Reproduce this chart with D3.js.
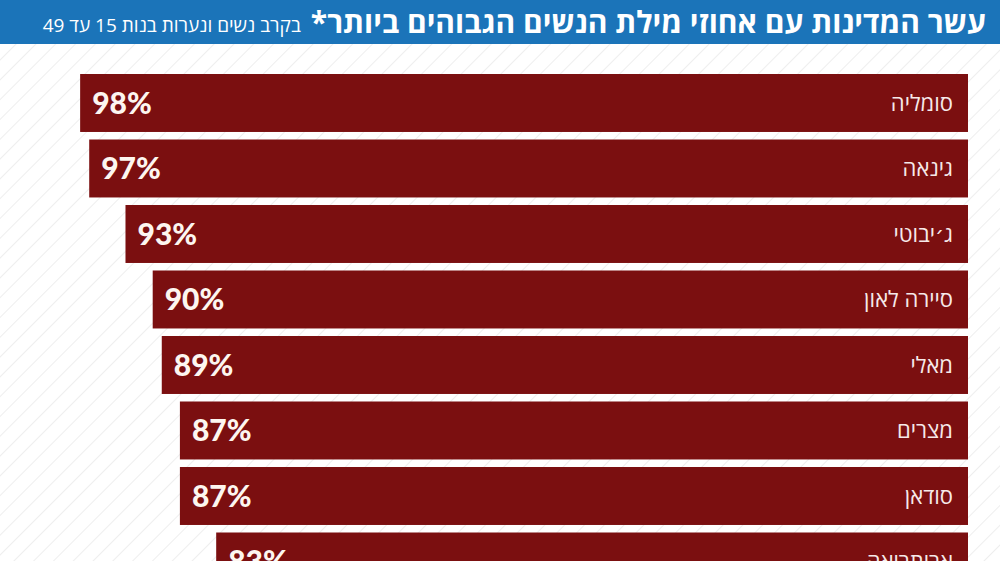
<!DOCTYPE html>
<html>
<head>
<meta charset="utf-8">
<script src="https://cdn.jsdelivr.net/npm/d3@7/dist/d3.min.js"></script>
<style>
  html, body { margin: 0; padding: 0; background: #ffffff; }
  svg { display: block; }
</style>
</head>
<body>
<svg id="chart" width="1000" height="561"></svg>
<script>
// ---- data ----
const countries = ["סומליה", "גינאה", "ג׳יבוטי", "סיירה לאון", "מאלי", "מצרים", "סודאן", "אריתריאה"];
const values = [98, 97, 93, 90, 89, 87, 87, 83];
const titleText = "עשר המדינות עם אחוזי מילת הנשים הגבוהים ביותר*";
const subtitleText = "בקרב נשים ונערות בנות 15 עד 49";

const W = 1000, H = 561;
const svg = d3.select("#chart");

// background stripes
const defs = svg.append("defs");
const pat = defs.append("pattern")
  .attr("id", "stripes")
  .attr("patternUnits", "userSpaceOnUse")
  .attr("width", 14).attr("height", 14)
  .attr("patternTransform", "rotate(45)");
pat.append("rect").attr("width", 14).attr("height", 14).attr("fill", "#ffffff");
pat.append("line").attr("x1", 0).attr("y1", 0).attr("x2", 0).attr("y2", 14)
  .attr("stroke", "#e4e4e4").attr("stroke-width", 1.2);
svg.append("rect").attr("width", W).attr("height", H).attr("fill", "url(#stripes)");

// title bar
svg.append("rect").attr("x", 0).attr("y", 0).attr("width", W).attr("height", 44).attr("fill", "#1b74b9");
const title = svg.append("text")
  .attr("x", 986).attr("y", 33)
  .attr("direction", "rtl")
  .attr("text-anchor", "start")
  .attr("fill", "#ffffff")
  .style("font-family", "'Open Sans', 'DejaVu Sans', sans-serif")
  .style("font-size", "30px").style("font-weight", "700")
  .text(titleText);
const tw = title.node().getComputedTextLength();
svg.append("text")
  .attr("x", 986 - tw - 10).attr("y", 32)
  .attr("direction", "rtl")
  .attr("text-anchor", "start")
  .attr("fill", "#ffffff")
  .style("font-family", "'Open Sans', 'DejaVu Sans', sans-serif")
  .style("font-size", "19px").style("font-weight", "400")
  .text(subtitleText);

// scales
const x = d3.scaleLinear().domain([0, 100]).range([969, 62]);
const step = 65.5;
const y = d3.scaleBand()
  .domain(countries)
  .range([74 - step * 0.0575, 74 - step * 0.0575 + step * countries.length])
  .paddingInner(0.115)
  .paddingOuter(0.0575);

const data = countries.map((c, i) => ({ c, v: values[i] }));

const g = svg.append("g");
g.selectAll("rect.bar").data(data).join("rect")
  .attr("class", "bar")
  .attr("x", d => x(d.v))
  .attr("y", d => y(d.c))
  .attr("width", d => x(0) - x(d.v) - 1)
  .attr("height", y.bandwidth())
  .attr("fill", "#7b0f10");

g.selectAll("text.val").data(data).join("text")
  .attr("class", "val")
  .attr("x", d => x(d.v) + 12)
  .attr("y", d => y(d.c) + y.bandwidth() / 2 + 11)
  .attr("fill", "#fdf6f0")
  .style("font-family", "Lato, 'DejaVu Sans', sans-serif")
  .style("font-weight", "900")
  .style("font-size", "30px")
  .text(d => d.v + "%");

g.selectAll("text.name").data(data).join("text")
  .attr("class", "name")
  .attr("x", 953)
  .attr("y", d => y(d.c) + y.bandwidth() / 2 + 8)
  .attr("direction", "rtl")
  .attr("text-anchor", "start")
  .attr("fill", "#f6e9e9")
  .style("font-family", "'Open Sans', 'DejaVu Sans', sans-serif")
  .style("font-size", "22px")
  .text(d => d.c);
</script>
</body>
</html>
